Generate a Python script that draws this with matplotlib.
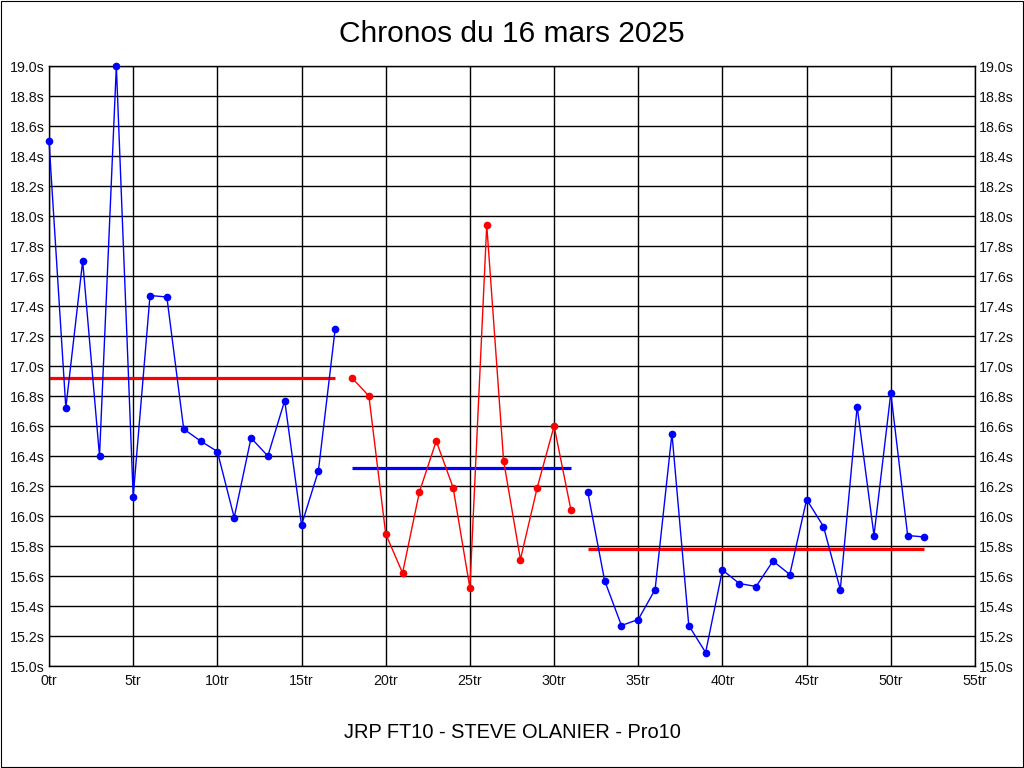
import matplotlib
matplotlib.use("Agg")
import matplotlib.pyplot as plt
from matplotlib.patches import Rectangle

plt.rcParams['font.family'] = ['Liberation Sans', 'DejaVu Sans']

# lap times in seconds, lap 0..52
times = [18.50, 16.72, 17.70, 16.40, 19.00, 16.13, 17.47, 17.46, 16.58, 16.50,
         16.43, 15.99, 16.52, 16.40, 16.77, 15.94, 16.30, 17.25,
         16.92, 16.80, 15.88, 15.62, 16.16, 16.50, 16.19, 15.52, 17.94, 16.37,
         15.71, 16.19, 16.60, 16.04,
         16.16, 15.57, 15.27, 15.31, 15.51, 16.55, 15.27, 15.09, 15.64, 15.55,
         15.53, 15.70, 15.61, 16.11, 15.93, 15.51, 16.73, 15.87, 16.82, 15.87,
         15.86]

# relay segments: (first lap, last lap, colour, average)
seg_start = [0, 18, 32]
seg_end = [17, 31, 52]
seg_color = ['blue', 'red', 'blue']
seg_avg = [16.92, 16.32, 15.78]
avg_color = ['red', 'blue', 'red']

yticks = [15.0 + 0.2 * i for i in range(21)]
xticks = list(range(0, 56, 5))

fig = plt.figure(figsize=(10.24, 7.68), dpi=100)
fig.patch.set_facecolor('white')
ax = fig.add_axes([49 / 1024, 102 / 768, 926 / 1024, 600 / 768])

for s, e, c in zip(seg_start, seg_end, seg_color):
    laps = list(range(s, e + 1))
    ax.plot(laps, times[s:e + 1], color=c, lw=1.0, marker='o', ms=4.5,
            mec=c, mfc=c, zorder=3, clip_on=False)

for s, e, a, c in zip(seg_start, seg_end, seg_avg, avg_color):
    ax.plot([s, e], [a, a], color=c, lw=2.3, solid_capstyle='butt', zorder=2)

ax.set_xlim(0, 55)
ax.set_ylim(15.0, 19.0)
ax.set_xticks(xticks)
ax.set_xticklabels(['%dtr' % x for x in xticks])
ax.set_yticks(yticks)
ax.set_yticklabels(['%.1fs' % y for y in yticks])
ax.tick_params(axis='both', length=0, labelsize=10.3, colors='#111111')
ax.tick_params(axis='y', pad=3, labelright=True)
ax.tick_params(axis='x', pad=6)
ax.grid(True, color='black', lw=1.0)
for sp in ax.spines.values():
    sp.set_color('black')
    sp.set_linewidth(1.0)

fig.text(0.5, 1 - 34 / 768, 'Chronos du 16 mars 2025', ha='center', va='center',
         fontsize=21.5, color='black')
fig.text(0.5, 1 - 733 / 768, 'JRP FT10 - STEVE OLANIER - Pro10', ha='center',
         va='center', fontsize=14.4, color='black')

fig.patches.append(Rectangle((0.0005, 0.0007), 0.999, 0.9986, transform=fig.transFigure,
                             fill=False, edgecolor='black', lw=0.8))

fig.savefig('out.png', dpi=100, facecolor='white')
